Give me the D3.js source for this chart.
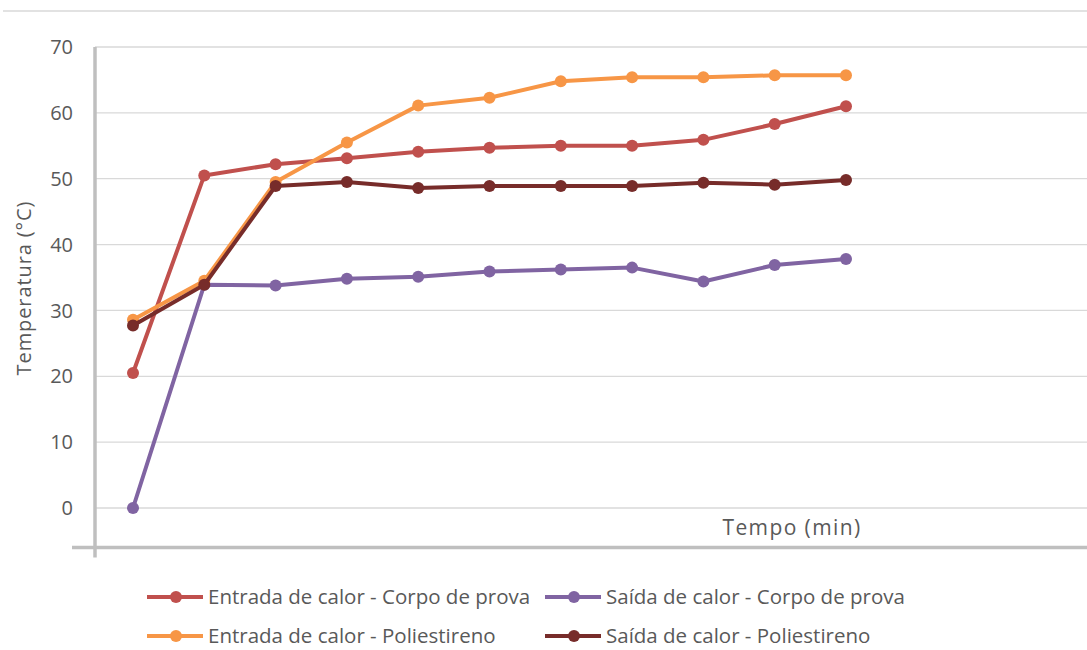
<!DOCTYPE html>
<html>
<head>
<meta charset="utf-8">
<script src="https://cdn.jsdelivr.net/npm/d3@7"></script>
<style>
  html, body { margin: 0; padding: 0; background: #fff; }
  svg { display: block; font-family: "Open Sans", "Noto Sans", sans-serif; }
</style>
</head>
<body>
<svg id="chart" width="1087" height="650"></svg>
<script>
// Measurement times (minutes) – one point per reading
const tempos = [0, 5, 10, 15, 20, 25, 30, 35, 40, 45, 50];

// Temperatures (°C) per measurement series
const entradaCorpo = [20.5, 50.5, 52.2, 53.1, 54.1, 54.7, 55.0, 55.0, 55.9, 58.3, 61.0];
const saidaCorpo   = [0.0, 33.9, 33.8, 34.8, 35.1, 35.9, 36.2, 36.5, 34.4, 36.9, 37.8];
const entradaPoli  = [28.6, 34.5, 49.5, 55.5, 61.1, 62.3, 64.8, 65.4, 65.4, 65.7, 65.7];
const saidaPoli    = [27.7, 33.9, 48.9, 49.5, 48.6, 48.9, 48.9, 48.9, 49.4, 49.1, 49.8];

const seriesNames = [
  "Entrada de calor - Corpo de prova",
  "Saída de calor - Corpo de prova",
  "Entrada de calor - Poliestireno",
  "Saída de calor - Poliestireno"
];
const seriesColors = ["#c0504d", "#8064a2", "#f79646", "#772c2a"];
const yTicks = [0, 10, 20, 30, 40, 50, 60, 70];
const yFloor = -6;

const series = [entradaCorpo, saidaCorpo, entradaPoli, saidaPoli].map((vals, i) => ({
  name: seriesNames[i],
  color: seriesColors[i],
  values: vals.map((v, j) => ({ t: tempos[j], v }))
}));

const svg = d3.select("#chart");

const x = d3.scalePoint().domain(tempos).range([133, 846]);
const y = d3.scaleLinear().domain([0, 70]).range([508, 47]);

const axisLeft = 95;
const plotRight = 1087;

// Top frame line
svg.append("line")
  .attr("x1", 3).attr("x2", 1087).attr("y1", 11).attr("y2", 11)
  .attr("stroke", "#d9d9d9").attr("stroke-width", 1.5);

// Horizontal gridlines
svg.append("g").selectAll("line").data(yTicks).join("line")
  .attr("x1", axisLeft).attr("x2", plotRight)
  .attr("y1", d => y(d)).attr("y2", d => y(d))
  .attr("stroke", "#d9d9d9").attr("stroke-width", 1.3);

// Y tick labels
svg.append("g").selectAll("text").data(yTicks).join("text")
  .attr("x", 73).attr("y", d => y(d)).attr("dy", "0.36em")
  .attr("text-anchor", "end")
  .attr("font-size", 20).attr("fill", "#595959")
  .text(d => d);

// Axis lines (crossing below zero)
svg.append("line")
  .attr("x1", axisLeft).attr("x2", axisLeft)
  .attr("y1", y(70)).attr("y2", y(yFloor) + 10)
  .attr("stroke", "#bfbfbf").attr("stroke-width", 3.5);
svg.append("line")
  .attr("x1", 72).attr("x2", plotRight)
  .attr("y1", y(yFloor)).attr("y2", y(yFloor))
  .attr("stroke", "#bfbfbf").attr("stroke-width", 3.5);

// Axis titles
svg.append("text")
  .attr("transform", `translate(31, 288) rotate(-90)`)
  .attr("text-anchor", "middle")
  .attr("font-size", 20).attr("letter-spacing", 0.9).attr("fill", "#595959")
  .text("Temperatura (°C)");

svg.append("text")
  .attr("x", 792).attr("y", 535)
  .attr("text-anchor", "middle")
  .attr("font-size", 21).attr("letter-spacing", 1.4).attr("fill", "#595959")
  .text("Tempo (min)");

// Series lines and markers
const line = d3.line().x(d => x(d.t)).y(d => y(d.v));
const g = svg.append("g");
series.forEach(s => {
  g.append("path")
    .attr("d", line(s.values))
    .attr("fill", "none")
    .attr("stroke", s.color)
    .attr("stroke-width", 4)
    .attr("stroke-linejoin", "round");
  g.append("g").selectAll("circle").data(s.values).join("circle")
    .attr("cx", d => x(d.t)).attr("cy", d => y(d.v))
    .attr("r", 6).attr("fill", s.color);
});

// Legend (2 x 2)
const legendPos = [
  { lx: 147, ly: 597 }, { lx: 545, ly: 597 },
  { lx: 147, ly: 636 }, { lx: 545, ly: 636 }
];
const legend = svg.append("g");
series.forEach((s, i) => {
  const p = legendPos[i];
  const item = legend.append("g").attr("transform", `translate(${p.lx},${p.ly})`);
  item.append("line").attr("x1", 0).attr("x2", 56).attr("y1", 0).attr("y2", 0)
    .attr("stroke", s.color).attr("stroke-width", 4);
  item.append("circle").attr("cx", 29).attr("cy", 0).attr("r", 6).attr("fill", s.color);
  item.append("text").attr("x", 61).attr("y", 0).attr("dy", "0.34em")
    .attr("font-size", 20.5).attr("fill", "#595959")
    .text(s.name);
});
</script>
</body>
</html>
